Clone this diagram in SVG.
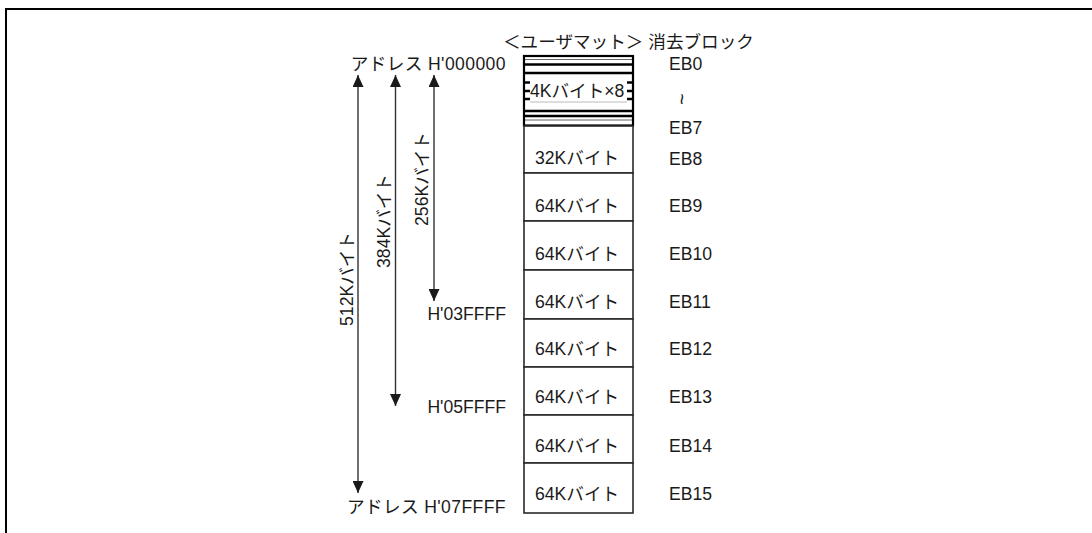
<svg xmlns="http://www.w3.org/2000/svg" width="1092" height="533" viewBox="0 0 1092 533">
<style>
text{font-family:"Liberation Sans","Noto Sans CJK JP",sans-serif;font-size:17.6px;fill:#1a1a1a}
.box{fill:#fff;stroke:#2a2a2a;stroke-width:1.6}
.thick{stroke:#000;stroke-width:2.4}
.thin{stroke:#666;stroke-width:1}
.arr{stroke:#333;stroke-width:1.4;fill:none;marker-start:url(#ah);marker-end:url(#ah)}
.end{text-anchor:end}
</style>
<defs>
<marker id="ah" markerUnits="userSpaceOnUse" markerWidth="12" markerHeight="11" refX="12" refY="5.5" orient="auto-start-reverse">
<path d="M0,0 L12,5.5 L0,11 z" fill="#1a1a1a"/>
</marker>
</defs>
<g id="frame">
<line x1="6" y1="9" x2="1092" y2="9" stroke="#000" stroke-width="2"/>
<line x1="6" y1="8" x2="6" y2="533" stroke="#000" stroke-width="2"/>
</g>
<g id="header">
<text x="503" y="48">＜ユーザマット＞ 消去ブロック</text>
</g>
<g id="eb0-7">
<rect x="524" y="56" width="109" height="70" fill="#fff" stroke="none"/>
<line class="thin" x1="524" y1="59.5" x2="633" y2="59.5"/>
<line class="thick" x1="524" y1="64.5" x2="633" y2="64.5"/>
<line class="thick" x1="524" y1="73" x2="633" y2="73"/>
<line class="thick" x1="524" y1="82.5" x2="633" y2="82.5"/>
<line class="thick" x1="524" y1="91" x2="633" y2="91"/>
<line class="thick" x1="524" y1="99" x2="633" y2="99"/>
<line class="thick" x1="524" y1="111" x2="633" y2="111"/>
<line class="thick" x1="524" y1="116" x2="633" y2="116"/>
<line class="thin" x1="524" y1="120" x2="633" y2="120"/>
<rect x="530" y="76.5" width="97" height="25" fill="#fff"/>
<line x1="530" y1="102" x2="627" y2="102" stroke="#bbb" stroke-width="1"/>
<rect x="524" y="56" width="109" height="69.5" fill="none" stroke="#000" stroke-width="2.2"/>
<text x="530" y="97">4Kバイト×8</text>
<text x="669" y="70">EB0</text>
<text transform="translate(681,99) rotate(90)" text-anchor="middle" dy="0.3em" style="font-size:20px">~</text>
<text x="669" y="134">EB7</text>
</g>
<g id="eb8">
<rect class="box" x="524" y="126" width="109" height="47"/>
<text x="535" y="164">32Kバイト</text>
<text x="669" y="165">EB8</text>
</g>
<g id="eb9">
<rect class="box" x="524" y="173" width="109" height="48"/>
<text x="535" y="211.5">64Kバイト</text>
<text x="669" y="211.5">EB9</text>
</g>
<g id="eb10">
<rect class="box" x="524" y="221" width="109" height="49"/>
<text x="535" y="259.5">64Kバイト</text>
<text x="669" y="259.5">EB10</text>
</g>
<g id="eb11">
<rect class="box" x="524" y="270" width="109" height="49"/>
<text x="535" y="307.5">64Kバイト</text>
<text x="669" y="307.5">EB11</text>
</g>
<g id="eb12">
<rect class="box" x="524" y="319" width="109" height="48"/>
<text x="535" y="355">64Kバイト</text>
<text x="669" y="355">EB12</text>
</g>
<g id="eb13">
<rect class="box" x="524" y="367" width="109" height="48"/>
<text x="535" y="403">64Kバイト</text>
<text x="669" y="403">EB13</text>
</g>
<g id="eb14">
<rect class="box" x="524" y="415" width="109" height="48"/>
<text x="535" y="451.5">64Kバイト</text>
<text x="669" y="451.5">EB14</text>
</g>
<g id="eb15">
<rect class="box" x="524" y="463" width="109" height="50"/>
<text x="535" y="500">64Kバイト</text>
<text x="669" y="500">EB15</text>
</g>
<g id="addresses">
<text class="end" x="506" y="70" letter-spacing="0.4">アドレス H'000000</text>
<text class="end" x="506" y="320">H'03FFFF</text>
<text class="end" x="506" y="413">H'05FFFF</text>
<text class="end" x="506" y="513" letter-spacing="0.4">アドレス H'07FFFF</text>
</g>
<g id="connectors">
<line class="arr" x1="358" y1="75" x2="358" y2="493"/>
<line class="arr" x1="395.5" y1="75" x2="395.5" y2="406"/>
<line class="arr" x1="434" y1="75" x2="434" y2="301"/>
</g>
<g id="size-labels">
<text transform="translate(428,179) rotate(-90)" text-anchor="middle">256Kバイト</text>
<text transform="translate(390,221) rotate(-90)" text-anchor="middle">384Kバイト</text>
<text transform="translate(353,279) rotate(-90)" text-anchor="middle">512Kバイト</text>
</g>
</svg>
